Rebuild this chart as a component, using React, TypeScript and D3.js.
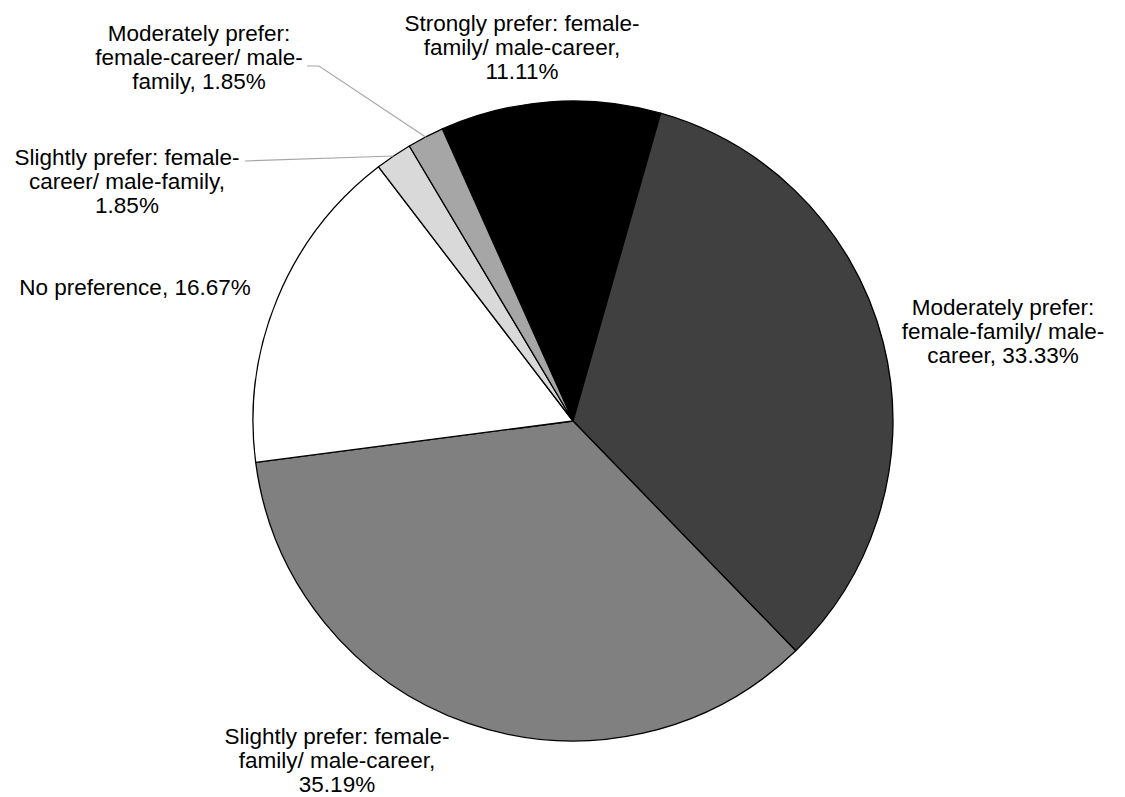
import React from "react";
import * as d3 from "d3";

// Share of respondents by preference, in clockwise drawing order
const categories: string[] = [
  "Strongly prefer: female-family/ male-career",
  "Moderately prefer: female-family/ male-career",
  "Slightly prefer: female-family/ male-career",
  "No preference",
  "Slightly prefer: female-career/ male-family",
  "Moderately prefer: female-career/ male-family",
];
const percentages: number[] = [11.11, 33.33, 35.19, 16.67, 1.85, 1.85];

// Label text broken into the lines shown next to each slice
const labelLines: string[][] = [
  ["Strongly prefer: female-", "family/ male-career,", "11.11%"],
  ["Moderately prefer:", "female-family/ male-", "career, 33.33%"],
  ["Slightly prefer: female-", "family/ male-career,", "35.19%"],
  ["No preference, 16.67%"],
  ["Slightly prefer: female-", "career/ male-family,", "1.85%"],
  ["Moderately prefer:", "female-career/ male-", "family, 1.85%"],
];

const fills = ["#000000", "#404040", "#808080", "#ffffff", "#d9d9d9", "#a6a6a6"];

// Label placement: centre x and centre of first line
const labelPos: { x: number; y: number }[] = [
  { x: 522, y: 23 },
  { x: 1003, y: 307 },
  { x: 337, y: 736 },
  { x: 135, y: 287 },
  { x: 127, y: 157 },
  { x: 199, y: 33 },
];

// Leader line start points (at the label side) for the thin slices
const leaderStart: Record<number, [number, number][]> = {
  4: [[245, 161]],
  5: [[307, 66], [319, 66]],
};

const W = 1125;
const H = 797;
const CX = 573;
const CY = 421;
const R = 320;
const FONT = 22.5;
const LINE = 24.2;

export default function App() {
  const startAngle = (-24.1 * Math.PI) / 180;
  const pie = d3
    .pie<number>()
    .sort(null)
    .value((d) => d)
    .startAngle(startAngle)
    .endAngle(startAngle + 2 * Math.PI);
  const arcs = pie(percentages);
  const arc = d3.arc<d3.PieArcDatum<number>>().innerRadius(0).outerRadius(R);
  const edge = d3.arc<d3.PieArcDatum<number>>().innerRadius(R).outerRadius(R);
  const line = d3.line();

  return (
    <svg
      width={W}
      height={H}
      style={{ position: "absolute", left: 0, top: 0, background: "#fff" }}
      fontFamily="'Liberation Sans', Arial, Helvetica, sans-serif"
    >
      <g transform={`translate(${CX},${CY})`}>
        {arcs.map((a, i) => (
          <path
            key={categories[i]}
            d={arc(a) || ""}
            fill={fills[i]}
            stroke="#000"
            strokeWidth={1.3}
            strokeLinejoin="round"
          />
        ))}
      </g>
      {arcs.map((a, i) => {
        const start = leaderStart[i];
        if (!start) return null;
        const [ex, ey] = edge.centroid(a);
        const pts: [number, number][] = [...start, [CX + ex, CY + ey]];
        return (
          <path
            key={"leader-" + i}
            d={line(pts) || ""}
            fill="none"
            stroke="#a6a6a6"
            strokeWidth={1.2}
          />
        );
      })}
      {labelLines.map((lines, i) => (
        <text
          key={"label-" + i}
          textAnchor="middle"
          fontSize={FONT}
          fill="#000"
        >
          {lines.map((t, j) => (
            <tspan
              key={j}
              x={labelPos[i].x}
              y={labelPos[i].y + j * LINE + FONT * 0.35}
            >
              {t}
            </tspan>
          ))}
        </text>
      ))}
    </svg>
  );
}
